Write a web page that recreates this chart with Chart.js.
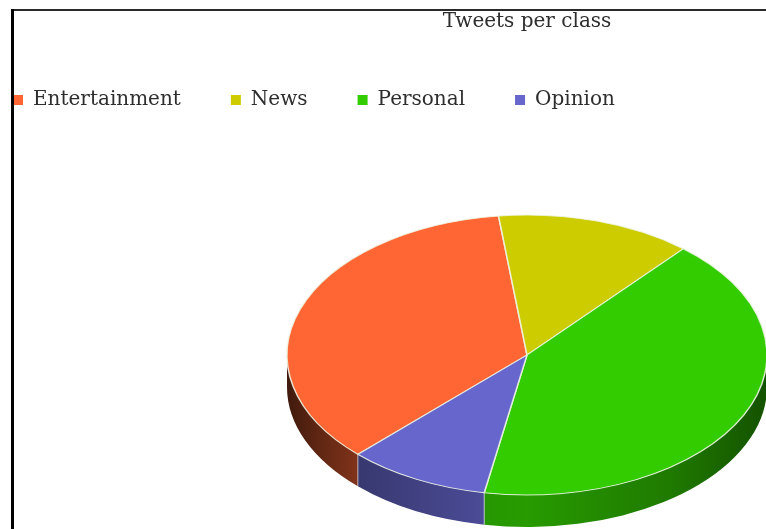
<!DOCTYPE html>
<html>
<head>
<meta charset="utf-8">
<title>Tweets per class</title>
<script src="https://cdn.jsdelivr.net/npm/chart.js@4/dist/chart.umd.min.js"></script>
<style>
  html, body { margin: 0; padding: 0; background: #ffffff; }
  #wrap { position: relative; width: 766px; height: 529px; overflow: hidden; }
</style>
</head>
<body>
<div id="wrap"><canvas id="chart" width="766" height="529"></canvas></div>
<script>
// Share of tweets (%) per class
const categories = ['Entertainment', 'News', 'Personal', 'Opinion'];
const shares = [35.7, 13.2, 41.6, 9.6];
const sliceColors = ['#FF6633', '#CCCC00', '#33CC00', '#6666CC'];
const chartTitle = 'Tweets per class';

// Perspective of the pie: vertical squash of the top face and thickness of the rim
const TILT = 140 / 240;
const DEPTH = 32;
const PIE_RADIUS = 240;
const PIE_BOTTOM_OVERFLOW = 61;   // the disc runs past the bottom edge of the canvas
const FONT = "'DejaVu Serif', 'Liberation Serif', serif";

// brightness profile of the rim, left edge -> right edge of the pie
const rimShade = [[0, 0.25], [0.07, 0.38], [0.146, 0.50], [0.15, 0.55], [0.41, 0.74], [0.5, 0.76], [0.6, 0.70], [0.8, 0.60], [0.95, 0.45], [1, 0.40]];

function hexToRgb(h) {
  const n = parseInt(h.slice(1), 16);
  return [(n >> 16) & 255, (n >> 8) & 255, n & 255];
}
function shade(hex, f) {
  const [r, g, b] = hexToRgb(hex);
  return `rgb(${Math.round(r * f)},${Math.round(g * f)},${Math.round(b * f)})`;
}
function normAngle(a) {
  const T = Math.PI * 2;
  return ((a % T) + T) % T;
}

// Let the plot area span the same width as the title row and run below the canvas
const areaPlugin = {
  id: 'area',
  afterLayout(chart) {
    const t = chart.titleBlock, lg = chart.legend;
    const left = t.left, right = t.right;
    const top = lg.bottom, bottom = chart.height + PIE_BOTTOM_OVERFLOW;
    chart.chartArea = { left, right, top, bottom, width: right - left, height: bottom - top };
  }
};

// Draws the rim of each slice, then squashes the canvas so the pie is drawn as a tilted disc
const tiltPlugin = {
  id: 'tilt',
  beforeDatasetsDraw(chart) {
    const ctx = chart.ctx;
    const arcs = chart.getDatasetMeta(0).data;
    if (!arcs.length) return;
    const cx = arcs[0].x, cy = arcs[0].y, r = arcs[0].outerRadius;
    const ry = r * TILT;
    const colors = chart.data.datasets[0].backgroundColor;

    ctx.save();
    const edges = [];
    arcs.forEach((arc, i) => {
      const s = normAngle(arc.startAngle);
      const e = s + (arc.endAngle - arc.startAngle);
      [[0, Math.PI], [2 * Math.PI, 3 * Math.PI]].forEach(([lo, hi]) => {
        const a1 = Math.max(s, lo), a2 = Math.min(e, hi);
        if (a2 <= a1) return;
        ctx.beginPath();
        ctx.ellipse(cx, cy, r, ry, 0, a1, a2);
        ctx.lineTo(cx + r * Math.cos(a2), cy + ry * Math.sin(a2) + DEPTH);
        ctx.ellipse(cx, cy + DEPTH, r, ry, 0, a2, a1, true);
        ctx.closePath();
        const g = ctx.createLinearGradient(cx - r, 0, cx + r, 0);
        rimShade.forEach(([p, f]) => g.addColorStop(p, shade(colors[i], f)));
        ctx.fillStyle = g;
        ctx.fill();
      });
      const sa = normAngle(arc.startAngle);
      if (sa > 0.01 && sa < Math.PI - 0.01) edges.push(sa);
    });
    // faint seams between neighbouring slices on the rim
    ctx.strokeStyle = 'rgba(230,230,240,0.55)';
    ctx.lineWidth = 1.2;
    edges.forEach(a => {
      const x = cx + r * Math.cos(a), y = cy + ry * Math.sin(a);
      ctx.beginPath();
      ctx.moveTo(x, y);
      ctx.lineTo(x, y + DEPTH);
      ctx.stroke();
    });
    ctx.restore();

    ctx.save();
    ctx.translate(cx, cy);
    ctx.scale(1, TILT);
    ctx.translate(-cx, -cy);
  },
  afterDatasetsDraw(chart) {
    if (chart.getDatasetMeta(0).data.length) chart.ctx.restore();
  }
};

// Frame lines along the top and left edge
const framePlugin = {
  id: 'frame',
  afterDraw(chart) {
    const ctx = chart.ctx;
    ctx.save();
    ctx.fillStyle = '#2a2a2a';
    ctx.fillRect(11, 9, chart.width - 11, 2);
    ctx.fillStyle = '#000000';
    ctx.fillRect(11, 9, 3, chart.height - 9);
    ctx.restore();
  }
};

const baseLabels = Chart.overrides.doughnut.plugins.legend.labels.generateLabels;

new Chart(document.getElementById('chart'), {
  type: 'pie',
  data: {
    labels: categories,
    datasets: [{
      data: shares,
      backgroundColor: sliceColors,
      borderColor: 'rgba(238,246,228,0.85)',
      borderWidth: 1.6,
      hoverOffset: 0,
      radius: PIE_RADIUS,
      clip: false
    }]
  },
  options: {
    responsive: false,
    animation: false,
    devicePixelRatio: 1,
    events: [],
    rotation: 224.8,
    radius: PIE_RADIUS,
    layout: { padding: { left: -37, right: -325, top: 0, bottom: 0 } },
    plugins: {
      title: {
        display: true,
        text: chartTitle,
        color: '#2e2e2e',
        font: { family: FONT, size: 20, weight: 'normal' },
        padding: { top: 10, bottom: 6 }
      },
      legend: {
        display: true,
        position: 'top',
        align: 'start',
        labels: {
          boxWidth: 10,
          boxHeight: 10,
          padding: 50,
          color: '#2e2e2e',
          font: { family: FONT, size: 20 },
          generateLabels: (chart) => baseLabels(chart).map(l => Object.assign(l, { lineWidth: 0, strokeStyle: 'rgba(0,0,0,0)' }))
        }
      },
      tooltip: { enabled: false }
    }
  },
  plugins: [areaPlugin, tiltPlugin, framePlugin]
});
</script>
</body>
</html>
